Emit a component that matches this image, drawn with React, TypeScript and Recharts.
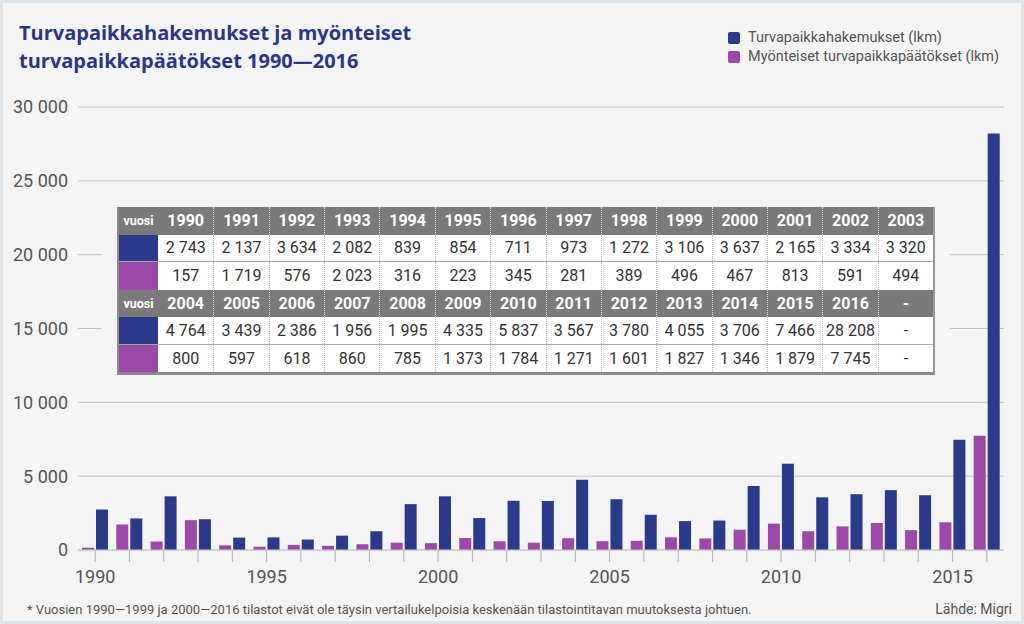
import { BarChart, Bar, XAxis, YAxis, CartesianGrid } from "recharts";

// categories
const years = [
  1990, 1991, 1992, 1993, 1994, 1995, 1996, 1997, 1998, 1999, 2000, 2001, 2002, 2003,
  2004, 2005, 2006, 2007, 2008, 2009, 2010, 2011, 2012, 2013, 2014, 2015, 2016,
];

// Turvapaikkahakemukset (lkm)
const applications = [
  2743, 2137, 3634, 2082, 839, 854, 711, 973, 1272, 3106, 3637, 2165, 3334, 3320,
  4764, 3439, 2386, 1956, 1995, 4335, 5837, 3567, 3780, 4055, 3706, 7466, 28208,
];

// Myönteiset turvapaikkapäätökset (lkm)
const positiveDecisions = [
  157, 1719, 576, 2023, 316, 223, 345, 281, 389, 496, 467, 813, 591, 494,
  800, 597, 618, 860, 785, 1373, 1784, 1271, 1601, 1827, 1346, 1879, 7745,
];

const yTicks = [0, 5000, 10000, 15000, 20000, 25000, 30000];
const labelledYears = [1990, 1995, 2000, 2005, 2010, 2015];

const BLUE = "#2b3a8a";
const PURPLE = "#9b4ba7";
const BG = "#f4f4f4";
const NARROW = "'Liberation Sans Narrow', 'Arial Narrow', Roboto, sans-serif";

const fmt = (n: number) => String(n).replace(/\B(?=(\d{3})+(?!\d))/g, " ");

const data = years.map((year, i) => ({
  year,
  applications: applications[i],
  positive: positiveDecisions[i],
}));

// table is split in two blocks of 14 columns
const blocks = [
  { start: 0, end: 14 },
  { start: 14, end: 28 },
];

function Cell({ children, header, first }: { children: any; header?: boolean; first?: boolean }) {
  return (
    <div
      style={{
        width: 55.4,
        height: "100%",
        display: "flex",
        alignItems: "center",
        justifyContent: "center",
        borderLeft: first ? "none" : header ? "1px dotted #d8d8d8" : "1px dotted #b8b8b8",
        boxSizing: "border-box",
        color: header ? "#fff" : "#333",
        fontWeight: header ? 700 : 400,
        fontSize: 16,
      }}
    >
      {children}
    </div>
  );
}

function DataTable() {
  const rowStyle = { display: "flex", height: 27.5 };
  return (
    <div
      style={{
        position: "absolute",
        left: 102,
        top: 200,
        width: 848,
        height: 180,
        background: BG,
      }}
    >
      <div
        style={{
          position: "absolute",
          left: 15,
          top: 7,
          width: 818,
          borderLeft: "2px solid #8a8a8a",
          borderRight: "2px solid #9a9a9a",
          borderBottom: "3px solid #8a8a8a",
          boxSizing: "border-box",
          fontFamily: NARROW,
        }}
      >
        {blocks.map((b, bi) => {
          const idx = Array.from({ length: b.end - b.start }, (_, k) => b.start + k);
          return (
            <div key={bi}>
              <div style={{ ...rowStyle, background: "#7a7a7a" }}>
                <div style={{ width: 39, display: "flex", alignItems: "center", justifyContent: "center", color: "#fff", fontWeight: 700, fontSize: 12.5 }}>
                  vuosi
                </div>
                {idx.map((i, k) => (
                  <Cell key={i} header first={k === 0}>{i < years.length ? years[i] : "-"}</Cell>
                ))}
              </div>
              <div style={{ ...rowStyle, background: "#fff", borderBottom: "1px solid #a8a8a8", boxSizing: "border-box" }}>
                <div style={{ width: 39, background: BLUE }} />
                {idx.map((i, k) => (
                  <Cell key={i} first={k === 0}>{i < years.length ? fmt(applications[i]) : "-"}</Cell>
                ))}
              </div>
              <div style={{ ...rowStyle, background: "#fff" }}>
                <div style={{ width: 39, background: PURPLE }} />
                {idx.map((i, k) => (
                  <Cell key={i} first={k === 0}>{i < years.length ? fmt(positiveDecisions[i]) : "-"}</Cell>
                ))}
              </div>
            </div>
          );
        })}
      </div>
    </div>
  );
}

export default function App() {
  return (
    <div
      style={{
        position: "absolute",
        left: 0,
        top: 0,
        width: 1024,
        height: 624,
        background: BG,
        boxShadow: "inset 0 0 0 3px #dfe4e8",
        overflow: "hidden",
        fontFamily: NARROW,
      }}
    >
      <div
        style={{
          position: "absolute",
          left: 19,
          top: 19,
          fontFamily: "'Open Sans', sans-serif",
          fontWeight: 700,
          fontSize: 20,
          lineHeight: "28px",
          color: "#2c3688",
        }}
      >
        Turvapaikkahakemukset ja myönteiset
        <br />
        turvapaikkapäätökset 1990—2016
      </div>

      <div style={{ position: "absolute", left: 728, top: 28, fontSize: 14.5, color: "#555", lineHeight: "19px" }}>
        {[
          { label: "Turvapaikkahakemukset (lkm)", color: BLUE },
          { label: "Myönteiset turvapaikkapäätökset (lkm)", color: PURPLE },
        ].map((item) => (
          <div key={item.label} style={{ display: "flex", alignItems: "center" }}>
            <span style={{ width: 12, height: 12, borderRadius: 2, background: item.color, marginRight: 8 }} />
            {item.label}
          </div>
        ))}
      </div>

      <BarChart
        width={1024}
        height={624}
        data={data}
        margin={{ top: 107, right: 20, bottom: 44, left: 0 }}
        barCategoryGap={4}
        barGap={2}
      >
        <CartesianGrid vertical={false} stroke="#c6c6c6" />
        <XAxis
          dataKey="year"
          interval={0}
          height={30}
          tickSize={12}
          tickMargin={8}
          axisLine={{ stroke: "#c9c9d3" }}
          tickLine={{ stroke: "#b2b2b2" }}
          tick={{ fill: "#555", fontSize: 18, fontFamily: NARROW }}
          tickFormatter={(y: number) => (labelledYears.includes(y) ? String(y) : "")}
        />
        <YAxis
          width={78}
          domain={[0, 30000]}
          ticks={yTicks}
          axisLine={false}
          tickLine={false}
          tickMargin={4}
          tick={{ fill: "#555", fontSize: 18, fontFamily: NARROW }}
          tickFormatter={fmt}
        />
        <Bar dataKey="positive" fill={PURPLE} isAnimationActive={false} />
        <Bar dataKey="applications" fill={BLUE} isAnimationActive={false} />
      </BarChart>

      <DataTable />

      <div style={{ position: "absolute", left: 27, top: 602, fontSize: 13, color: "#555" }}>
        * Vuosien 1990—1999 ja 2000—2016 tilastot eivät ole täysin vertailukelpoisia keskenään tilastointitavan muutoksesta johtuen.
      </div>
      <div style={{ position: "absolute", right: 12, top: 601, fontSize: 14, color: "#555" }}>Lähde: Migri</div>
    </div>
  );
}
